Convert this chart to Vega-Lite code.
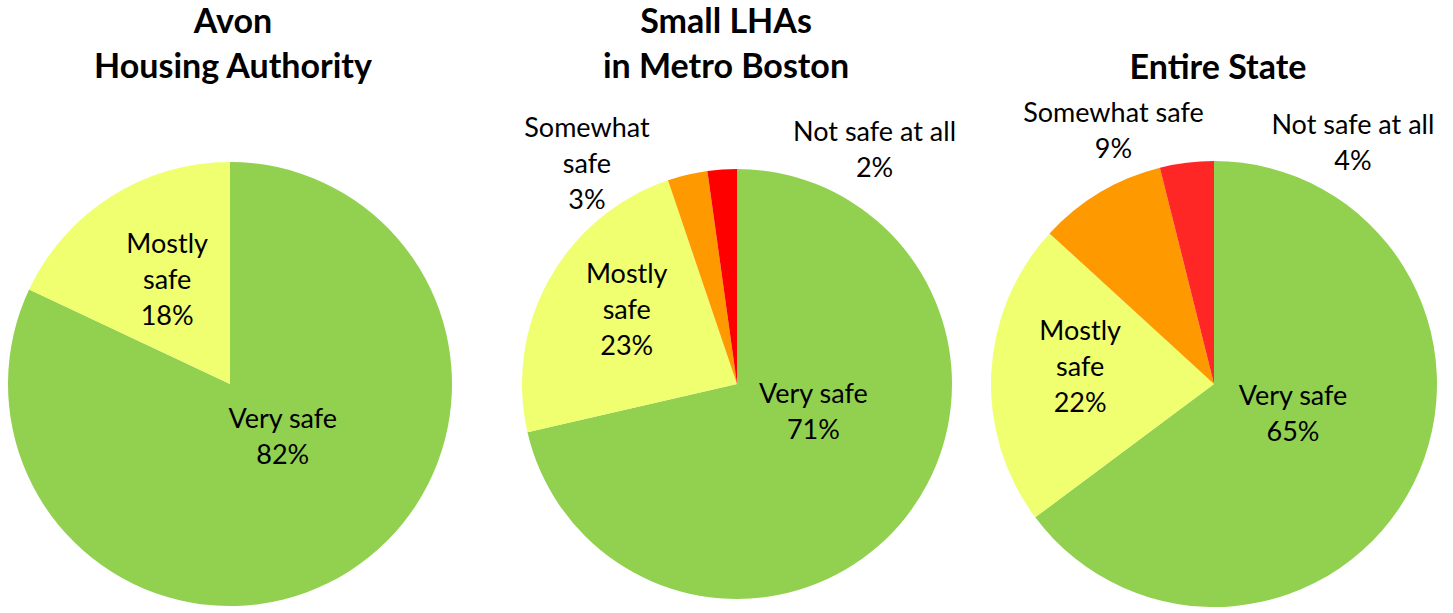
{
  "$schema": "https://vega.github.io/schema/vega-lite/v6.json",
  "padding": {"top": 6, "left": 0, "right": 0, "bottom": 0},
  "spacing": 0,
  "bounds": "flush",
  "config": {"view": {"stroke": null}, "font": "Lato"},
  "data": {"values": [
    {"chart": "Avon", "category": "Very safe", "rank": 1, "value": 82, "label": ["Very safe", "82%"]},
    {"chart": "Avon", "category": "Mostly safe", "rank": 2, "value": 18, "label": ["Mostly", "safe", "18%"]},
    {"chart": "Metro", "category": "Very safe", "rank": 1, "value": 71.4, "label": ["Very safe", "71%"]},
    {"chart": "Metro", "category": "Mostly safe", "rank": 2, "value": 23.4, "label": ["Mostly", "safe", "23%"]},
    {"chart": "Metro", "category": "Somewhat safe", "rank": 3, "value": 3.0, "label": ["Somewhat", "safe", "3%"]},
    {"chart": "Metro", "category": "Not safe at all", "rank": 4, "value": 2.2, "label": ["Not safe at all", "2%"]},
    {"chart": "State", "category": "Very safe", "rank": 1, "value": 64.8, "label": ["Very safe", "65%"]},
    {"chart": "State", "category": "Mostly safe", "rank": 2, "value": 22.0, "label": ["Mostly", "safe", "22%"]},
    {"chart": "State", "category": "Somewhat safe", "rank": 3, "value": 9.3, "label": ["Somewhat safe", "9%"]},
    {"chart": "State", "category": "Not safe at all", "rank": 4, "value": 3.9, "label": ["Not safe at all", "4%"]}
  ]},
  "resolve": {"scale": {"color": "independent", "theta": "independent"}},
  "hconcat": [
    {
      "width": 460, "height": 446,
      "title": {"text": ["Avon", "Housing Authority"], "frame": "group", "fontSize": 34, "font": "Lato", "fontWeight": "bold", "lineHeight": 45, "offset": 76, "color": "black", "anchor": "middle", "dx": 3},
      "transform": [{"filter": "datum.chart === 'Avon'"}],
      "encoding": {
        "theta": {"field": "value", "type": "quantitative", "stack": true},
        "order": {"field": "rank", "type": "quantitative"}
      },
      "layer": [
        {"mark": {"type": "arc", "outerRadius": 222},
         "encoding": {"color": {"field": "category", "type": "nominal", "legend": null,
           "scale": {"domain": ["Very safe", "Mostly safe", "Somewhat safe", "Not safe at all"], "range": ["#92D050", "#EFFF6F", "#FF9900", "#FF0000"]}}}},
        {"mark": {"type": "text", "radius": 76, "dx": 12, "dy": -28, "fontSize": 27, "lineHeight": 36, "font": "Lato", "color": "black"},
         "encoding": {"detail": {"field": "category", "type": "nominal"},
           "text": {"condition": {"test": "datum.category === 'Very safe'", "field": "label", "type": "nominal"}, "value": ""}}},
        {"mark": {"type": "text", "radius": 121, "dx": 2, "dy": -37, "fontSize": 27, "lineHeight": 36, "font": "Lato", "color": "black"},
         "encoding": {"detail": {"field": "category", "type": "nominal"},
           "text": {"condition": {"test": "datum.category === 'Mostly safe'", "field": "label", "type": "nominal"}, "value": ""}}}
      ]
    },
    {
      "width": 554, "height": 446,
      "title": {"text": ["Small LHAs", "in Metro Boston"], "frame": "group", "fontSize": 34, "font": "Lato", "fontWeight": "bold", "lineHeight": 45, "offset": 27, "color": "black", "anchor": "middle", "dx": -11},
      "transform": [{"filter": "datum.chart === 'Metro'"}],
      "encoding": {
        "theta": {"field": "value", "type": "quantitative", "stack": true},
        "order": {"field": "rank", "type": "quantitative"}
      },
      "layer": [
        {"mark": {"type": "arc", "outerRadius": 215},
         "encoding": {"color": {"field": "category", "type": "nominal", "legend": null,
           "scale": {"domain": ["Very safe", "Mostly safe", "Somewhat safe", "Not safe at all"], "range": ["#92D050", "#EFFF6F", "#FF9900", "#FF0000"]}}}},
        {"mark": {"type": "text", "radius": 81, "dx": 13, "dy": -39, "fontSize": 27, "lineHeight": 36, "font": "Lato", "color": "black"},
         "encoding": {"detail": {"field": "category", "type": "nominal"},
           "text": {"condition": {"test": "datum.category === 'Very safe'", "field": "label", "type": "nominal"}, "value": ""}}},
        {"mark": {"type": "text", "radius": 132, "dx": 5, "dy": -45, "fontSize": 27, "lineHeight": 36, "font": "Lato", "color": "black"},
         "encoding": {"detail": {"field": "category", "type": "nominal"},
           "text": {"condition": {"test": "datum.category === 'Mostly safe'", "field": "label", "type": "nominal"}, "value": ""}}},
        {"mark": {"type": "text", "radius": 100, "dx": -127, "dy": -158, "fontSize": 27, "lineHeight": 36, "font": "Lato", "color": "black"},
         "encoding": {"detail": {"field": "category", "type": "nominal"},
           "text": {"condition": {"test": "datum.category === 'Somewhat safe'", "field": "label", "type": "nominal"}, "value": ""}}},
        {"mark": {"type": "text", "radius": 50, "dx": 141, "dy": -201, "fontSize": 27, "lineHeight": 36, "font": "Lato", "color": "black"},
         "encoding": {"detail": {"field": "category", "type": "nominal"},
           "text": {"condition": {"test": "datum.category === 'Not safe at all'", "field": "label", "type": "nominal"}, "value": ""}}}
      ]
    },
    {
      "width": 400, "height": 446,
      "title": {"text": "Entire State", "frame": "group", "fontSize": 34, "font": "Lato", "fontWeight": "bold", "lineHeight": 45, "offset": 7, "color": "black", "anchor": "middle", "dx": 4},
      "transform": [{"filter": "datum.chart === 'State'"}],
      "encoding": {
        "theta": {"field": "value", "type": "quantitative", "stack": true},
        "order": {"field": "rank", "type": "quantitative"}
      },
      "layer": [
        {"mark": {"type": "arc", "outerRadius": 223},
         "encoding": {"color": {"field": "category", "type": "nominal", "legend": null,
           "scale": {"domain": ["Very safe", "Mostly safe", "Somewhat safe", "Not safe at all"], "range": ["#92D050", "#EFFF6F", "#FF9900", "#FF2626"]}}}},
        {"mark": {"type": "text", "radius": 85, "dx": 3, "dy": -25, "fontSize": 27, "lineHeight": 36, "font": "Lato", "color": "black"},
         "encoding": {"detail": {"field": "category", "type": "nominal"},
           "text": {"condition": {"test": "datum.category === 'Very safe'", "field": "label", "type": "nominal"}, "value": ""}}},
        {"mark": {"type": "text", "radius": 134, "dx": 0, "dy": -45, "fontSize": 27, "lineHeight": 36, "font": "Lato", "color": "black"},
         "encoding": {"detail": {"field": "category", "type": "nominal"},
           "text": {"condition": {"test": "datum.category === 'Mostly safe'", "field": "label", "type": "nominal"}, "value": ""}}},
        {"mark": {"type": "text", "radius": 50, "dx": -75, "dy": -227, "fontSize": 27, "lineHeight": 36, "font": "Lato", "color": "black"},
         "encoding": {"detail": {"field": "category", "type": "nominal"},
           "text": {"condition": {"test": "datum.category === 'Somewhat safe'", "field": "label", "type": "nominal"}, "value": ""}}},
        {"mark": {"type": "text", "radius": 50, "dx": 145, "dy": -208, "fontSize": 27, "lineHeight": 36, "font": "Lato", "color": "black"},
         "encoding": {"detail": {"field": "category", "type": "nominal"},
           "text": {"condition": {"test": "datum.category === 'Not safe at all'", "field": "label", "type": "nominal"}, "value": ""}}}
      ]
    }
  ]
}
